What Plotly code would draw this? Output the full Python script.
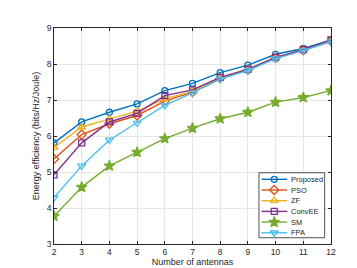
import plotly.graph_objects as go

antennas = [2, 3, 4, 5, 6, 7, 8, 9, 10, 11, 12]
proposed = [5.81, 6.39, 6.66, 6.89, 7.26, 7.46, 7.76, 7.97, 8.27, 8.43, 8.66]
pso      = [5.36, 6.04, 6.34, 6.57, 6.97, 7.22, 7.60, 7.84, 8.17, 8.38, 8.64]
zf       = [5.68, 6.25, 6.47, 6.69, 7.03, 7.24, 7.62, 7.86, 8.18, 8.39, 8.63]
convee   = [4.92, 5.81, 6.39, 6.63, 7.12, 7.28, 7.63, 7.85, 8.18, 8.40, 8.67]
sm       = [3.77, 4.58, 5.17, 5.55, 5.93, 6.22, 6.48, 6.66, 6.94, 7.07, 7.26]
fpa      = [4.29, 5.17, 5.89, 6.36, 6.85, 7.20, 7.58, 7.82, 8.15, 8.37, 8.62]

series = [
    ("Proposed", proposed, "#0072BD", "circle-open", 6),
    ("PSO", pso, "#D95319", "diamond-open", 7),
    ("ZF", zf, "#EDB120", "triangle-up-open", 7),
    ("ConvEE", convee, "#7E2F8E", "square-open", 6),
    ("SM", sm, "#77AC30", "star", 8),
    ("FPA", fpa, "#4DBEEE", "triangle-down-open", 7),
]

FONT = "Liberation Sans, Arial"
TXT = "#262626"

fig = go.Figure()
for name, vals, color, sym, sz in series:
    fig.add_trace(go.Scatter(
        x=antennas, y=vals, name=name, mode="lines+markers",
        line=dict(color=color, width=1.4),
        marker=dict(symbol=sym, size=sz, color=color,
                    line=dict(color=color, width=1.3)),
        showlegend=False,
    ))

# custom compact legend (MATLAB style) on an auxiliary unit axis
lx0, lx1, ly0, ly1 = 0.740, 0.977, 0.029, 0.330
item_top, item_step = 0.2995, 0.0495
fig.add_trace(go.Scatter(
    x=[lx0, lx1, lx1, lx0, lx0], y=[ly0, ly0, ly1, ly1, ly0],
    xaxis="x2", yaxis="y2", mode="lines", fill="toself", fillcolor="white",
    line=dict(color=TXT, width=0.8), showlegend=False, hoverinfo="skip"))
for i, (name, vals, color, sym, sz) in enumerate(series):
    yy = item_top - i * item_step
    fig.add_trace(go.Scatter(
        x=[0.749, 0.795, 0.842], y=[yy, yy, yy], xaxis="x2", yaxis="y2",
        mode="lines", line=dict(color=color, width=1.4),
        showlegend=False, hoverinfo="skip"))
    fig.add_trace(go.Scatter(
        x=[0.795], y=[yy], xaxis="x2", yaxis="y2", mode="markers",
        marker=dict(symbol=sym, size=sz, color=color, line=dict(color=color, width=1.3)),
        showlegend=False, hoverinfo="skip"))
    fig.add_annotation(x=0.848, y=yy, xref="x2", yref="y2", text=name,
                       showarrow=False, xanchor="left", yanchor="middle",
                       font=dict(family=FONT, size=7.5, color=TXT))

axis_common = dict(
    showline=True, linecolor=TXT, linewidth=0.8, mirror="ticks",
    ticks="inside", ticklen=3, tickcolor=TXT,
    showgrid=True, gridcolor="#E6E6E6", gridwidth=0.8, zeroline=False,
    tickfont=dict(family=FONT, size=8.5, color=TXT),
)

fig.update_layout(
    width=357, height=268,
    margin=dict(l=46, r=34, t=20, b=30),
    paper_bgcolor="white", plot_bgcolor="white",
    font=dict(family=FONT, size=8, color=TXT),
    xaxis=dict(range=[2, 12], dtick=1,
               title=dict(text="Number of antennas", standoff=1,
                          font=dict(family=FONT, size=9, color=TXT)),
               **axis_common),
    yaxis=dict(range=[3, 9], dtick=1,
               title=dict(text="Energy efficiency (bits/Hz/Joule)", standoff=5,
                          font=dict(family=FONT, size=9, color=TXT)),
               **axis_common),
    xaxis2=dict(range=[0, 1], overlaying="x", visible=False, fixedrange=True),
    yaxis2=dict(range=[0, 1], overlaying="y", visible=False, fixedrange=True),
    showlegend=False,
)

fig.write_html("out.html")
